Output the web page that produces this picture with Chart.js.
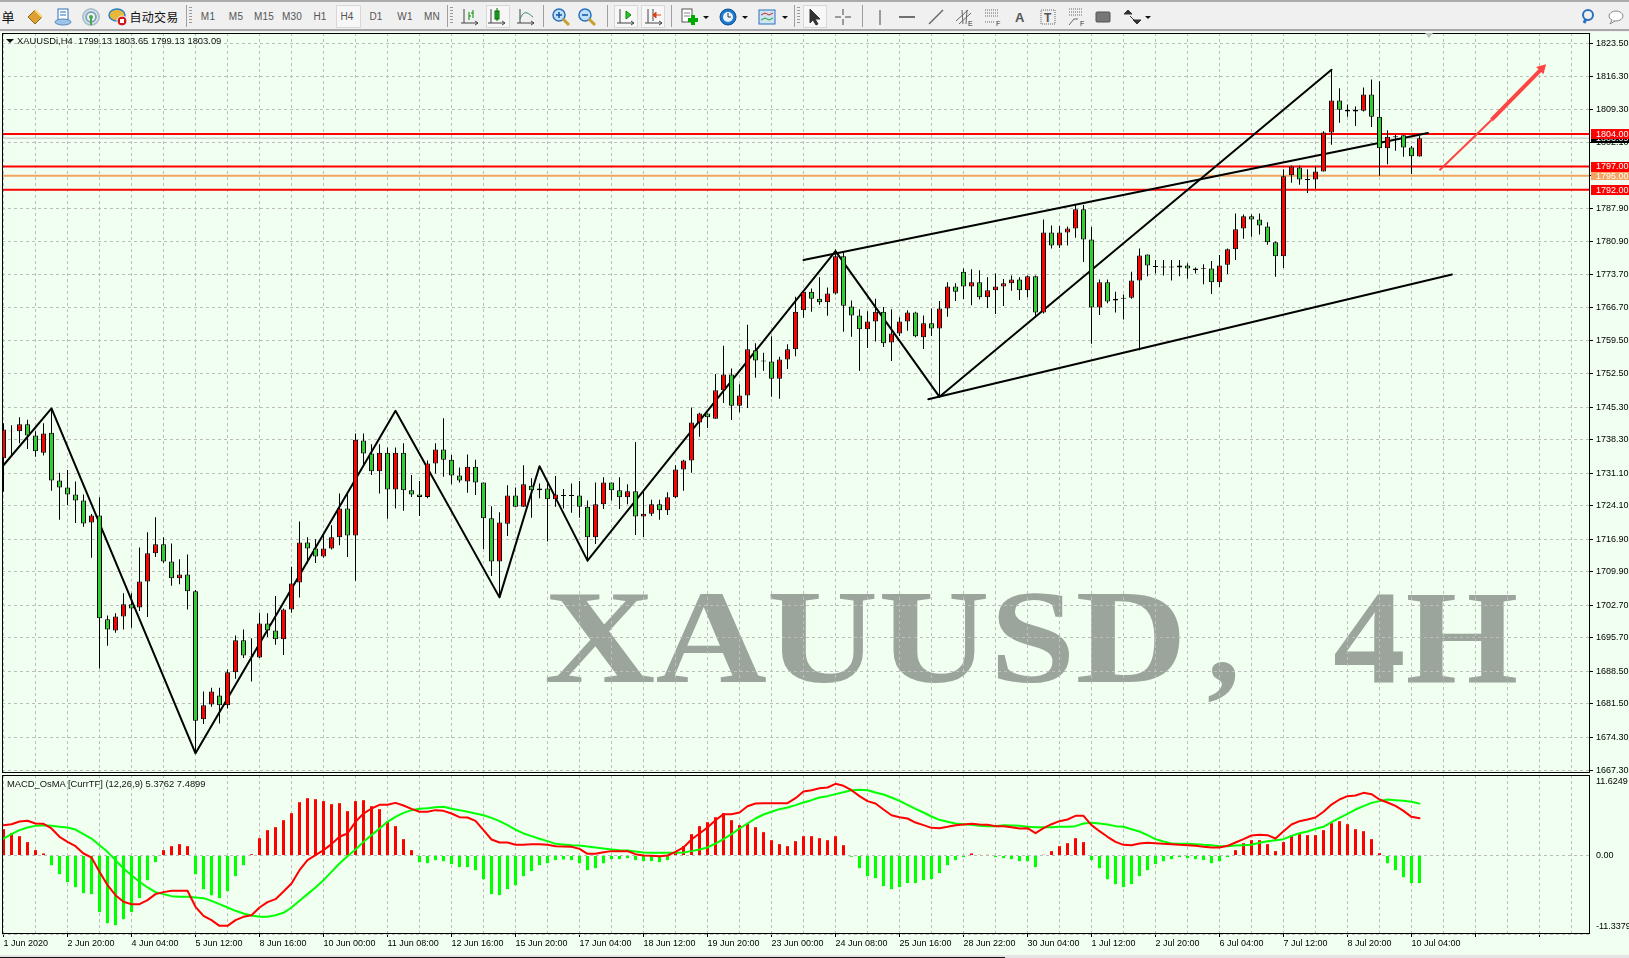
<!DOCTYPE html>
<html><head><meta charset="utf-8"><title>XAUUSD 4H</title>
<script src="https://cdn.jsdelivr.net/npm/chart.js@4"></script>
<style>
html,body{margin:0;padding:0;width:1629px;height:958px;overflow:hidden;background:#F0FFF0;font-family:"Liberation Sans",Arial,sans-serif}
canvas{position:absolute;left:0;z-index:1;display:block}
#toolbar{position:absolute;left:0;top:0;width:1629px;height:32px;background:#F0F0F0;z-index:3;box-sizing:border-box;border-top:2px solid #ABABAB;}
#toolbar:after{content:"";position:absolute;left:0;right:0;top:27px;height:2px;background:#A8A8A8}
.tb{position:absolute;top:9px;font-size:10px;color:#555;transform:translateX(-50%);white-space:nowrap;letter-spacing:.2px}
.sep{position:absolute;top:3px;height:22px;width:1px;background:#A0A0A0}
.grip{position:absolute;top:5px;height:18px;width:3px;background:repeating-linear-gradient(#9a9a9a 0 1px,transparent 1px 3px)}
.box{position:absolute;top:3px;height:23px;border:1px solid #D8D8D8;background:#F7F7F7;box-sizing:border-box}
.ic{position:absolute;top:5px;width:20px;height:20px;overflow:visible}
.dd{position:absolute;top:14px;width:0;height:0;border-left:3px solid transparent;border-right:3px solid transparent;border-top:3px solid #111}
.wm{position:absolute;top:562px;font:bold 133px "Liberation Serif",serif;color:#9BA59C;white-space:pre;transform-origin:0 0;z-index:0;line-height:150px}
.cap{position:absolute;font-size:9.4px;color:#111;z-index:2;white-space:pre;line-height:12px}
#tri{position:absolute;left:1425px;top:33px;width:0;height:0;border-left:4px solid transparent;border-right:4px solid transparent;border-top:5px solid #C0C0C0;z-index:2}
#tri0{position:absolute;left:6px;top:39px;width:0;height:0;border-left:4px solid transparent;border-right:4px solid transparent;border-top:4px solid #111;z-index:2}
#foot{position:absolute;left:0;top:955px;width:1629px;height:3px;background:#E4E4E4;z-index:2}
#foot:after{content:"";position:absolute;left:0;width:1005px;top:2px;height:1px;background:#111}
</style></head><body>
<div class="wm" style="left:544px;transform:scaleX(1.16)">XAUUSD</div>
<div class="wm" style="left:1207px">,</div>
<div class="wm" style="left:1333px;transform:scaleX(1.09)">4H</div>
<div id="toolbar"></div>
<div id="tri0"></div>
<div class="cap" style="left:17px;top:35px">XAUUSDi,H4  1799.13 1803.65 1799.13 1803.09</div>
<div id="tri"></div>
<div class="cap" style="left:7px;top:778px">MACD_OsMA [CurrTF] (12,26,9) 5.3762 7.4899</div>
<div id="foot"></div>
<canvas id="main" width="1629" height="774" style="top:0"></canvas>
<canvas id="macd" width="1629" height="184" style="top:774px"></canvas>
<script>
const opens=[1734.3,1740.1,1740.1,1741.6,1739.2,1735.5,1739.8,1729.5,1728.0,1726.5,
1725.2,1720.5,1722.0,1699.7,1697.3,1700.3,1702.9,1702.2,1707.8,1713.9,
1715.8,1712.1,1708.5,1709.3,1705.7,1678.2,1681.4,1683.3,1681.2,1688.3,
1695.2,1691.8,1691.5,1698.8,1697.3,1695.4,1701.8,1707.6,1716.2,1714.9,
1713.2,1714.9,1717.3,1723.5,1717.7,1738.1,1735.3,1731.5,1735.5,1727.6,
1735.5,1727.4,1726.5,1726.0,1733.2,1736.2,1734.0,1730.6,1729.3,1732.5,
1729.1,1721.4,1712.1,1720.2,1726.3,1723.9,1728.4,1727.4,1727.8,1725.5,
1726.4,1726.4,1726.3,1723.9,1717.3,1724.4,1729.1,1727.4,1725.9,1727.2,
1721.8,1722.4,1724.4,1723.1,1725.9,1731.9,1733.8,1742.0,1743.9,1742.8,
1748.9,1752.3,1745.6,1747.8,1757.5,1755.3,1755.1,1751.4,1755.5,1757.7,
1766.1,1770.1,1768.6,1767.8,1769.7,1777.7,1766.9,1765.0,1762.0,1763.7,
1765.8,1759.2,1761.1,1763.7,1765.6,1760.3,1763.3,1762.2,1766.5,1771.2,
1774.4,1771.2,1772.1,1768.9,1770.4,1771.2,1771.9,1772.7,1770.4,1773.4,
1765.6,1782.8,1780.0,1782.8,1783.7,1787.8,1781.3,1766.7,1772.1,1768.2,
1768.8,1768.8,1772.5,1778.1,1775.6,1775.5,1775.5,1775.3,1775.7,1775.1,
1775.2,1775.1,1772.1,1775.9,
1779.2,1783.7,1786.3,1785.6,1784.1,1780.7,1777.7,1795.1,1796.8,1794.3,1794.2,1795.9,1804.3,1811.2,1809.2,1808.8,1809.0,1812.5,1807.7,1800.9,1803.5,1803.7,1801.1,1799.13];
const closes=[1740.5,1740.2,1741.6,1739.2,1735.8,1739.6,1729.5,1728.0,1726.5,1725.2,
1720.3,1722.0,1699.9,1697.5,1700.3,1702.9,1702.0,1707.8,1713.9,1715.8,
1712.1,1708.5,1709.3,1705.7,1677.9,1681.2,1684.2,1681.2,1688.3,1695.2,
1691.9,1691.7,1698.8,1697.3,1695.4,1701.8,1707.4,1716.2,1714.9,1713.2,
1714.9,1717.3,1723.5,1717.7,1738.3,1735.3,1731.5,1735.5,1727.6,1735.5,
1727.4,1726.5,1726.0,1733.2,1736.2,1734.0,1730.6,1729.5,1732.5,1729.1,
1721.4,1712.1,1720.5,1726.3,1723.9,1728.7,1727.4,1727.8,1725.5,1726.5,
1726.2,1726.2,1723.9,1717.3,1724.4,1729.1,1727.4,1725.9,1727.2,1721.8,
1722.4,1724.4,1723.1,1725.9,1731.9,1733.8,1742.0,1743.9,1743.1,1748.9,
1752.3,1745.6,1747.8,1757.7,1755.3,1755.1,1751.4,1755.5,1757.7,1765.8,
1770.1,1768.6,1767.8,1769.7,1777.7,1767.1,1765.0,1762.0,1763.7,1765.8,
1759.0,1761.1,1763.7,1765.6,1760.5,1763.3,1762.2,1766.5,1771.2,1770.1,
1771.2,1772.1,1768.9,1770.4,1771.2,1771.9,1772.7,1770.4,1773.4,1765.6,
1782.8,1780.0,1782.8,1783.7,1787.8,1781.3,1766.7,1772.1,1768.0,1768.6,
1768.6,1772.5,1777.9,1775.7,1775.4,1775.3,1775.3,1775.7,1775.1,1774.7,
1775.0,1772.1,1775.7,1779.2,
1783.5,1786.3,1785.6,1784.3,1780.7,1777.7,1794.9,1797.0,1794.2,1794.1,1795.9,1804.3,1811.2,1809.2,1808.8,1809.2,1812.5,1807.7,1800.9,1803.4,1803.3,1801.1,1799.2,1803.09];
const highs=[1741.8,1741.4,1743.1,1742.6,1740.1,1741.8,1745.0,1731.2,1731.8,1729.3,
1726.5,1722.3,1725.9,1700.5,1701.0,1705.3,1705.3,1715.1,1718.4,1721.6,
1717.3,1716.0,1712.6,1713.6,1706.0,1684.2,1685.0,1685.0,1688.9,1696.2,
1697.5,1695.6,1701.1,1701.0,1704.7,1702.0,1711.0,1720.7,1717.3,1716.9,
1718.1,1719.9,1726.7,1726.7,1739.6,1739.6,1737.3,1737.3,1736.6,1736.6,
1737.5,1730.7,1729.4,1733.8,1737.5,1742.9,1735.0,1732.3,1735.1,1734.0,
1729.1,1724.0,1722.7,1728.5,1728.0,1732.8,1730.0,1728.9,1728.9,1730.5,
1727.7,1728.9,1729.4,1725.2,1729.1,1730.2,1729.1,1730.2,1728.7,1737.8,
1727.2,1725.4,1725.4,1727.0,1732.8,1734.0,1745.2,1744.1,1743.9,1752.4,
1758.5,1753.6,1750.2,1763.0,1759.0,1757.0,1760.5,1756.1,1758.8,1769.0,
1770.4,1770.8,1773.2,1771.0,1779.2,1778.7,1768.2,1766.3,1765.9,1768.6,
1766.8,1766.3,1764.6,1766.1,1765.8,1765.0,1766.5,1768.1,1772.1,1771.9,
1775.1,1774.9,1774.7,1773.2,1774.0,1772.8,1773.6,1773.2,1773.6,1773.6,
1785.6,1784.3,1784.2,1784.1,1788.7,1788.7,1784.0,1772.7,1772.7,1770.1,
1769.5,1774.4,1779.4,1778.1,1776.9,1776.9,1776.9,1776.9,1776.2,1775.3,
1776.0,1776.7,1778.0,1779.4,
1786.9,1786.7,1786.7,1786.9,1785.0,1780.9,1796.4,1797.2,1797.2,1796.4,1797.0,1804.6,1817.8,1813.8,1810.3,1809.9,1814.0,1815.7,1815.3,1804.8,1803.9,1803.7,1801.4,1803.65];
const lows=[1727.1,1735.0,1737.5,1736.3,1734.6,1734.9,1727.3,1721.1,1724.2,1720.4,
1719.6,1712.9,1689.1,1694.0,1696.8,1697.5,1697.9,1701.5,1700.2,1713.1,
1711.8,1706.9,1707.2,1701.8,1670.9,1677.2,1680.9,1677.3,1680.5,1686.9,
1691.4,1686.3,1691.4,1695.9,1694.2,1692.0,1701.1,1704.4,1711.7,1711.8,
1712.9,1714.7,1715.6,1713.1,1708.0,1732.9,1730.7,1726.7,1721.3,1723.5,
1723.0,1726.0,1721.9,1725.7,1731.0,1730.3,1728.7,1729.1,1726.9,1726.4,
1714.8,1709.0,1704.6,1717.6,1723.9,1723.9,1721.5,1725.7,1716.4,1723.9,
1723.5,1722.6,1721.5,1712.1,1715.9,1723.4,1725.2,1723.4,1724.4,1717.8,
1717.4,1721.9,1721.1,1722.1,1725.7,1727.3,1731.2,1738.9,1740.8,1742.8,
1746.2,1742.5,1744.2,1745.1,1751.6,1753.1,1747.5,1747.1,1753.5,1756.2,
1764.5,1765.8,1767.3,1764.9,1769.5,1761.5,1760.4,1753.1,1758.0,1759.4,
1758.2,1755.2,1760.6,1761.7,1760.3,1757.8,1760.6,1747.5,1764.7,1768.1,
1768.5,1767.2,1768.4,1766.6,1765.3,1767.0,1770.3,1768.3,1768.9,1764.8,
1765.4,1779.4,1779.5,1780.0,1781.7,1776.5,1758.9,1765.1,1767.6,1765.6,
1764.1,1768.6,1757.5,1773.4,1774.0,1773.6,1772.5,1773.4,1772.9,1774.0,
1771.7,1769.6,1771.1,1773.9,
1776.9,1781.5,1781.9,1782.4,1780.2,1773.3,1775.2,1793.5,1793.1,1791.3,1792.2,1795.9,1801.7,1806.4,1807.7,1805.7,1808.8,1805.5,1795.0,1797.5,1800.4,1799.1,1795.4,1799.13];
const osma=[3.80,3.22,2.79,1.93,0.77,0.29,-1.40,-2.70,-3.85,-4.57,
-5.44,-5.58,-8.18,-9.77,-10.06,-9.19,-8.18,-6.16,-3.56,-0.96,
0.77,1.35,1.64,1.35,-2.70,-4.86,-5.73,-6.16,-5.15,-2.98,
-1.40,0.19,2.50,3.66,4.09,5.10,6.11,7.70,8.28,8.13,
7.85,7.41,7.56,6.40,7.85,7.99,7.12,6.69,4.96,4.24,
2.36,0.77,-0.96,-1.11,-0.67,-0.82,-1.25,-1.68,-1.68,-2.12,
-3.42,-5.58,-5.73,-4.86,-4.28,-2.98,-2.26,-1.40,-1.11,-0.67,
-0.58,-0.67,-1.11,-2.12,-1.83,-1.11,-0.53,-0.53,-0.39,-0.67,
-0.82,-0.82,-0.96,-0.67,0.48,1.35,3.08,4.24,4.81,5.53,
6.11,5.10,4.38,4.60,4.09,3.37,2.21,1.64,1.35,2.07,
2.79,2.79,2.50,2.21,2.79,1.49,-0.19,-1.83,-2.98,-3.27,
-4.43,-4.86,-4.57,-3.99,-3.99,-3.56,-3.42,-2.55,-1.40,-0.67,
-0.24,0.29,0.10,0.10,-0.24,-0.39,-0.53,-0.82,-0.82,-1.68,
0.10,0.63,1.35,1.78,2.50,1.93,-0.67,-1.83,-3.42,-4.14,
-4.57,-4.14,-2.98,-2.12,-1.25,-0.82,-0.53,-0.24,-0.39,-0.53,
-0.67,-1.11,-0.82,-0.24,0.77,1.78,2.21,2.21,1.64,0.63,
1.93,2.94,3.08,2.94,2.94,3.66,4.67,4.96,4.52,3.80,
3.51,2.36,0.34,-1.11,-2.12,-3.13,-3.99,-3.99];
const macdLine=[4.38,4.52,4.91,5.01,4.62,4.57,3.90,2.70,1.97,1.35,
0.29,-0.29,-2.36,-4.28,-5.73,-6.69,-7.03,-7.03,-6.45,-5.58,
-5.29,-5.10,-5.10,-5.10,-7.41,-8.71,-9.34,-10.16,-10.16,-9.34,
-8.86,-8.62,-7.51,-6.74,-6.31,-5.20,-4.04,-2.12,-0.67,0.05,
0.77,1.64,2.70,3.18,4.86,6.06,6.79,7.32,7.32,7.60,
7.22,6.74,6.31,6.31,6.55,6.45,6.06,5.53,5.49,5.01,
3.66,2.31,1.88,1.88,1.54,1.54,1.64,1.64,1.54,1.35,
1.30,1.25,0.96,0.24,0.24,0.48,0.63,0.63,0.63,0.19,
0,-0.05,-0.10,0,0.53,1.16,2.31,3.18,4.04,5.10,
5.97,5.97,6.21,7.12,7.51,7.56,7.56,7.56,7.56,8.28,
9.24,9.43,9.72,9.82,10.35,10.06,9.43,8.57,7.85,7.51,
6.64,5.82,5.53,5.34,4.76,4.38,3.99,3.95,4.14,4.38,
4.48,4.57,4.48,4.43,4.24,4.24,4.09,3.90,3.95,3.22,
3.95,4.52,4.96,5.20,5.73,5.73,4.38,3.51,2.70,1.97,
1.54,1.49,1.73,1.83,1.78,1.68,1.64,1.54,1.49,1.40,
1.25,1.16,1.16,1.40,1.88,2.36,2.89,2.98,2.94,2.45,
3.51,4.48,4.96,5.20,5.49,6.31,7.36,8.09,8.57,8.66,
9.05,8.86,8.09,7.65,7.17,6.45,5.58,5.38];
const signalLine=[2.45,3.08,3.66,4.04,4.28,4.38,4.28,4.14,4.04,3.75,
3.08,2.45,1.49,0.53,-0.67,-1.88,-2.84,-3.80,-4.62,-5.29,
-5.58,-5.87,-5.97,-5.97,-6.06,-6.16,-6.55,-7.03,-7.51,-7.99,
-8.37,-8.66,-8.86,-8.86,-8.62,-8.28,-7.51,-6.55,-5.58,-4.62,
-3.56,-2.36,-1.16,-0.10,0.87,1.97,2.94,3.90,4.86,5.58,
6.16,6.55,6.74,6.83,6.98,7.03,6.74,6.55,6.31,6.06,
5.82,5.44,4.96,4.38,3.75,3.18,2.79,2.41,2.07,1.68,
1.59,1.49,1.44,1.30,1.16,1.01,0.87,0.77,0.72,0.58,
0.43,0.39,0.39,0.39,0.39,0.43,0.63,0.87,1.16,1.73,
2.36,3.08,3.90,4.62,5.34,5.92,6.31,6.69,6.93,7.27,
7.65,7.99,8.37,8.57,8.86,9.14,9.43,9.48,9.43,9.10,
8.81,8.37,7.89,7.32,6.74,6.21,5.63,5.15,4.86,4.62,
4.52,4.43,4.28,4.24,4.24,4.38,4.33,4.28,4.14,4.09,
4.09,4.09,4.14,4.14,4.24,4.62,4.72,4.62,4.48,4.24,
4.14,3.80,3.47,2.94,2.36,2.02,1.73,1.68,1.68,1.64,
1.54,1.49,1.35,1.35,1.44,1.49,1.54,1.83,2.07,2.21,
2.36,2.84,3.22,3.47,3.85,4.14,4.81,5.44,6.02,6.64,
7.12,7.60,7.85,8.09,7.99,7.89,7.75,7.49];
const timeLabels=["1 Jun 2020","2 Jun 20:00","4 Jun 04:00","5 Jun 12:00","8 Jun 16:00","10 Jun 00:00","11 Jun 08:00","12 Jun 16:00","15 Jun 20:00","17 Jun 04:00","18 Jun 12:00","19 Jun 20:00","23 Jun 00:00","24 Jun 08:00","25 Jun 16:00","28 Jun 22:00","30 Jun 04:00","1 Jul 12:00","2 Jul 20:00","6 Jul 04:00","7 Jul 12:00","8 Jul 20:00","10 Jul 04:00"];
const priceTicks=[1823.5,1816.3,1809.3,1802.1,1795.1,1787.9,1780.9,1773.7,1766.7,1759.5,1752.5,1745.3,1738.3,1731.1,1724.1,1716.9,1709.9,1702.7,1695.7,1688.5,1681.5,1674.3,1667.3];
const zigX=[0,6,24,49,62,67,73,104,117,166];
const zigY=[1732.8,1745.0,1670.9,1744.5,1704.4,1732.6,1712.3,1778.8,1747.5,1817.8];
const upperX=[100,178.05], upperY=[1776.9,1804.2];
const lowerX=[115.6,181.05], lowerY=[1747.0,1773.8];
const arrowX=[179.5,186,192.3], arrowY=[1796.2,1807.0,1818.05];
const levels=[1804,1797,1792], midLevel=[1795], lastPrice=1803.09;
const macdMin=-11.3379, macdMax=11.6249;
const xMin=-0.1875, xMax=198.3125, yMin=1666.66, yMax=1825.69;

const idx=opens.map((_,i)=>i);
const pairs=(xs,ys)=>xs.map((x,i)=>({x,y:ys[i]}));
const GRID='#BDBDBD';
const FONT={family:'"Liberation Sans",Arial,sans-serif',size:9};
Chart.defaults.font=FONT;
Chart.defaults.color='#000';
const lineDs=(data,color,width,order,extra)=>Object.assign({type:'line',data,borderColor:color,backgroundColor:color,borderWidth:width,pointRadius:0,tension:0,order,borderCapStyle:'round',borderJoinStyle:'round'},extra||{});
const noPad=s=>{s.paddingTop=0;s.paddingBottom=0;s.paddingLeft=0;s.paddingRight=0;};

function xAxis(showLabels){
  return {type:'linear',min:xMin,max:xMax,offset:false,
    afterBuildTicks:s=>{const t=[];for(let v=0;v<=xMax;v+=4)t.push({value:v});s.ticks=t;},
    afterFit:s=>{s.height=showLabels?24:0;noPad(s);},
    grid:{offset:false,color:GRID,lineWidth:1,drawTicks:showLabels,tickLength:3,tickColor:c=>(c.tick&&c.tick.value%8===0)?'#000':'rgba(0,0,0,0)'},
    border:{display:false,dash:[3,3]},
    ticks:{display:showLabels,autoSkip:false,maxRotation:0,minRotation:0,align:'start',padding:1,color:'#000',font:FONT,
      callback:v=>v%8===0?(timeLabels[v/8]||''):''}};
}
const frame={id:'frame',afterDraw(c){const a=c.chartArea,x=c.ctx;x.save();x.strokeStyle='#000';x.lineWidth=1;
  x.strokeRect(a.left+.5,a.top+.5,a.right-a.left-1,a.bottom-a.top-1);x.restore();}};
const tags={id:'tags',afterDraw(c){const y=c.scales.y,x=c.ctx,L=c.chartArea.right+1,W=c.width-L;x.save();
  x.font='9px "Liberation Sans",Arial,sans-serif';x.textBaseline='middle';x.textAlign='left';
  const tag=(v,bg,h)=>{const p=y.getPixelForValue(v);x.fillStyle=bg;x.fillRect(L,Math.round(p-h/2),W,h);x.fillStyle='#fff';x.fillText(v.toFixed(2),1596,p+.5);};
  tag(lastPrice,'#000',9);tag(midLevel[0],'#F4A460',9);levels.forEach(v=>tag(v,'#FF0000',10));x.restore();}};
const common={responsive:false,animation:false,events:[],plugins:{legend:{display:false},tooltip:{enabled:false}}};

new Chart(document.getElementById('main'),{type:'bar',
 data:{datasets:[
  {label:'Body',data:idx.map(i=>({x:i,y:[opens[i],closes[i]]})),backgroundColor:idx.map(i=>closes[i]>=opens[i]?'#FF0000':'#32CD32'),borderColor:'#000',borderWidth:1,borderSkipped:false,barThickness:5,grouped:false,order:0,inflateAmount:0},
  {label:'Wick',data:idx.map(i=>({x:i,y:[lows[i],highs[i]]})),backgroundColor:'#000',borderWidth:0,barThickness:1,grouped:false,order:1,inflateAmount:0},
  lineDs(pairs(zigX,zigY),'#000',2,2,{label:'ZigZag'}),
  lineDs(pairs(upperX,upperY),'#000',2,2,{label:'Upper channel'}),
  lineDs(pairs(lowerX,lowerY),'#000',2,2,{label:'Lower channel'}),
  lineDs(pairs(arrowX,arrowY),'#FF4444',3,2,{label:'Arrow',pointRadius:[0,0,6],pointStyle:'triangle',pointRotation:[0,0,45],pointBackgroundColor:'#FF4444',pointBorderWidth:0,segment:{borderWidth:c=>c.p0DataIndex===0?2:4},borderCapStyle:'butt'}),
  ...levels.map(v=>lineDs([{x:xMin,y:v},{x:xMax,y:v}],'#FF0000',2,3,{label:'Level '+v})),
  lineDs([{x:xMin,y:midLevel[0]},{x:xMax,y:midLevel[0]}],'#F4A460',2,4,{label:'Level 1795'}),
  lineDs([{x:xMin,y:lastPrice},{x:xMax,y:lastPrice}],'#C0C0C0',1,5,{label:'Last price'})
 ]},
 options:Object.assign({},common,{
  layout:{autoPadding:false,padding:{left:2,right:0,top:33,bottom:1}},
  scales:{x:xAxis(false),
   y:{type:'linear',position:'right',min:yMin,max:yMax,
    afterBuildTicks:s=>{s.ticks=priceTicks.map(v=>({value:v}));},
    afterFit:s=>{s.width=39;noPad(s);},
    grid:{color:GRID,lineWidth:1,drawTicks:true,tickLength:3,tickColor:'#000'},
    border:{display:false,dash:[3,3]},
    ticks:{autoSkip:false,padding:3,color:'#000',font:FONT,callback:v=>v.toFixed(2)}}}
 }),
 plugins:[frame,tags]
});

const nudge={id:'nudge',beforeDraw(c){const s=c.scales.y,it=s.getLabelItems();
  it.forEach((o,i)=>{const v=s.ticks[i].value;const d=v===macdMax?7:(v===macdMin?-7:0);o.options.translation[1]=s.getPixelForValue(v)+d;});}};
new Chart(document.getElementById('macd'),{type:'bar',
 data:{datasets:[
  lineDs(pairs(idx,macdLine),'#FF0000',2,0,{label:'MACD'}),
  lineDs(pairs(idx,signalLine),'#00FF00',2,0,{label:'Signal'}),
  {label:'OsMA',data:idx.map(i=>({x:i,y:osma[i]})),backgroundColor:idx.map(i=>osma[i]>=0?'#FF0000':'#00FF00'),borderWidth:0,barThickness:3,grouped:false,order:1,inflateAmount:0}
 ]},
 options:Object.assign({},common,{
  layout:{autoPadding:false,padding:{left:2,right:0,top:1,bottom:0}},
  scales:{x:xAxis(true),
   y:{type:'linear',position:'right',min:macdMin,max:macdMax,
    afterBuildTicks:s=>{s.ticks=[macdMax,0,macdMin].map(v=>({value:v}));},
    afterFit:s=>{s.width=39;noPad(s);},
    grid:{color:GRID,lineWidth:1,drawTicks:false},
    border:{display:false,dash:[3,3]},
    ticks:{autoSkip:false,padding:6,color:'#000',font:FONT,callback:v=>v===0?'0.00':(v===macdMax?'11.6249':'-11.3379')}}}
 }),
 plugins:[frame,nudge]
});

/* toolbar */
const tb=document.getElementById('toolbar');
const add=h=>tb.insertAdjacentHTML('beforeend',h);
const ic=(x,s)=>add(`<svg class="ic" style="left:${x-10}px" viewBox="0 0 20 20">${s}</svg>`);
const txt=(x,t,st)=>add(`<div class="tb" style="left:${x}px;${st||''}">${t}</div>`);
const sep=x=>add(`<div class="sep" style="left:${x}px"></div>`);
const grip=x=>add(`<div class="grip" style="left:${x}px"></div>`);
const box=(x,w)=>add(`<div class="box" style="left:${x}px;width:${w}px"></div>`);
const dd=x=>add(`<div class="dd" style="left:${x-3}px"></div>`);
txt(8,'单',"font:13px 'Noto Sans CJK SC';color:#111;top:5px");
txt(154,'自动交易',"font:12px 'Noto Sans CJK SC';color:#111;top:6px");
ic(35,'<path d="M3 10 L10 3 L17 10 L10 17Z" fill="#E0A030" stroke="#8a6a20"/><path d="M10 3L17 10" stroke="#F6DA80" stroke-width="2"/>');
ic(63,'<rect x="5" y="2" width="10" height="11" fill="#fff" stroke="#2a70c0"/><path d="M7 5h6M7 8h6" stroke="#2a70c0"/><ellipse cx="10" cy="15" rx="8" ry="3" fill="#9cc4ea" stroke="#5b8ab8"/>');
ic(91,'<circle cx="10" cy="10" r="8" fill="none" stroke="#aac0cc" stroke-width="2"/><circle cx="10" cy="10" r="5" fill="none" stroke="#7aa8c0" stroke-width="2"/><circle cx="10" cy="10" r="2" fill="#4aa84a"/><path d="M10 10v8" stroke="#4aa84a" stroke-width="2"/>');
ic(118,'<ellipse cx="9" cy="8" rx="8" ry="6" fill="#E8B83A" stroke="#2a80c0" stroke-width="1.5"/><circle cx="14" cy="14" r="5" fill="#D01818" stroke="#fff"/><rect x="12" y="12" width="4" height="4" fill="#fff"/>');
sep(186);grip(189);
['M1','M5','M15','M30','H1','H4','D1','W1','MN'].forEach((t,i)=>{const xs=[208,236,264,292,320,347,376,405,432];if(t==='H4')box(336,25);txt(xs[i],t);});
sep(447);grip(450);
const axes='<path d="M4 2V16M1 16H18" stroke="#444" fill="none"/><path d="M15 14l3 2-3 2" stroke="#444" fill="none"/>';
ic(470,axes+'<path d="M9 5v8M13 3v8" stroke="#080"/><path d="M9 9h2M13 6h-2" stroke="#080"/>');
box(486,24);
ic(497,axes+'<rect x="8" y="4" width="4" height="8" fill="#2EC82E" stroke="#060"/><path d="M10 1v13" stroke="#060"/>');
ic(526,axes+'<path d="M4 12C8 2 12 6 17 10" stroke="#2a8a5a" fill="none"/>');
sep(543);
const zoomI=(x,p)=>ic(x,`<circle cx="8" cy="8" r="6" fill="#BFE0F8" stroke="#2a70c0" stroke-width="1.5"/><path d="M5 8h6${p?'M8 5v6':''}" stroke="#15a" stroke-width="1.5"/><path d="M12 12l6 6" stroke="#C8A030" stroke-width="3"/>`);
zoomI(561,true);zoomI(587,false);
sep(607);
box(614,24);box(641,24);
ic(626,axes+'<path d="M10 4l5 4-5 4Z" fill="#2EC82E" stroke="#080"/>');
ic(654,axes+'<path d="M9 2v12" stroke="#444"/><path d="M17 8l-5 0M12 5l-3 3 3 3Z" fill="#E04010" stroke="#E04010"/>');
sep(671);
ic(690,'<rect x="2" y="2" width="10" height="13" fill="#fff" stroke="#555"/><path d="M4 6h6M4 9h6" stroke="#888"/><path d="M13 8v10M8 13h10" stroke="#0A0" stroke-width="4"/>');dd(706);
ic(728,'<circle cx="10" cy="10" r="8" fill="#1E7AD0" stroke="#0A4F90"/><circle cx="10" cy="10" r="5" fill="#EAF4FF"/><path d="M10 6v4h3" stroke="#333" fill="none"/>');dd(745);
ic(767,'<rect x="2" y="3" width="16" height="14" fill="#CDE4F5" stroke="#2a70c0"/><path d="M4 8l4-2 4 2 4-2" stroke="#D02020" fill="none"/><path d="M4 13l4-2 4 2 4-2" stroke="#20A020" fill="none"/>');dd(785);
sep(794);grip(797);
box(803,24);
ic(814,'<path d="M6 2V16L9 13L12 18L14 17L11 12H16Z" fill="#333" stroke="#333"/>');
ic(843,'<path d="M10 2v6M10 12v6M2 10h6M12 10h6" stroke="#444"/>');
sep(862);
ic(880,'<path d="M10 3v15" stroke="#444"/>');
ic(907,'<path d="M2 10h16" stroke="#444" stroke-width="1.5"/>');
ic(936,'<path d="M3 17L17 3" stroke="#666" stroke-width="1.5"/>');
ic(964,'<path d="M2 14L14 3M5 17L17 6M8 3l1 14M13 3l-1 14" stroke="#666"/><text x="14" y="19" font-size="7" fill="#333">E</text>');
ic(992,'<path d="M3 3h14M3 6h14M3 9h14M3 15h10" stroke="#666" stroke-dasharray="1 1"/><text x="14" y="19" font-size="7" fill="#333">F</text>');
ic(1020,'<text x="5" y="15" font-size="13" font-weight="bold" fill="#555" font-family="Liberation Sans">A</text>');
ic(1048,'<rect x="3" y="3" width="14" height="14" fill="none" stroke="#666" stroke-dasharray="1 1"/><text x="6" y="15" font-size="12" font-weight="bold" fill="#555" font-family="Liberation Sans">T</text>');
ic(1076,'<path d="M3 2h14M3 5h14M3 8h14" stroke="#666" stroke-dasharray="1 1"/><path d="M3 18l5-6 4 0" stroke="#666" fill="none"/><text x="14" y="19" font-size="7" fill="#333">F</text>');
ic(1103,'<rect x="3" y="5" width="14" height="10" rx="1" fill="#777" stroke="#555"/>');
ic(1133,'<path d="M5 3l4 4H1ZM14 17l4-4h-8ZM7 9l4 4" fill="#333" stroke="#333"/>');dd(1148);
ic(1590,'<circle cx="8" cy="8" r="5" fill="none" stroke="#2a70c0" stroke-width="2"/><path d="M4 16l2-4" stroke="#2a70c0" stroke-width="3"/>');
ic(1617,'<ellipse cx="9" cy="9" rx="7" ry="5" fill="#fff" stroke="#888"/><path d="M5 13l-2 4 5-3" fill="#fff" stroke="#888"/>');
</script>
</body></html>
